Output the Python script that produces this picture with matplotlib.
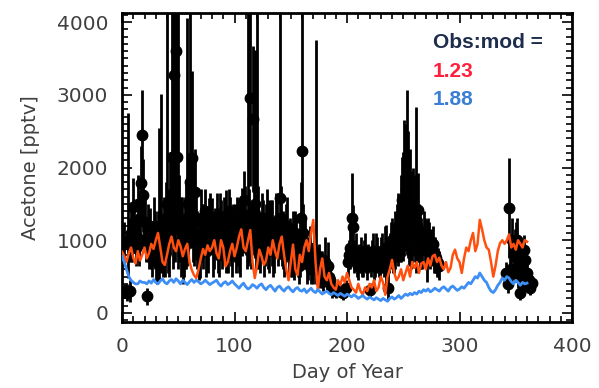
import numpy as np
import matplotlib
matplotlib.use("Agg")
import matplotlib.pyplot as plt
from matplotlib.ticker import MultipleLocator

# observations: day, acetone (pptv), error (upper)
obs_day = [2, 3, 4, 5, 6, 7, 8, 9, 10, 11, 12, 13, 14, 15, 16, 17, 18, 19, 20, 21,
           22, 24, 25, 27, 29, 31, 33, 35, 37, 38, 40, 42, 44, 46, 48, 49, 50, 52, 54, 56,
           58, 60, 62, 64, 65, 67, 69, 71, 73, 75, 77, 79, 80, 82, 84, 86, 88, 90, 92, 94,
           96, 98, 100, 102, 104, 106, 107, 108, 110, 112, 114, 116, 118, 120, 122, 124, 126, 128, 130, 132,
           134, 136, 138, 140, 142, 144, 146, 148, 149, 151, 153, 155, 157, 160, 162, 164, 166, 168, 170, 172,
           174, 176, 178, 180, 182, 183, 185, 187, 190, 193, 196, 199, 202, 204, 205, 207, 209, 211, 213, 215,
           217, 219, 220, 222, 224, 226, 228, 230, 232, 234, 235, 236, 238, 240, 242, 244, 246, 247, 249, 250,
           251, 253, 255, 257, 259, 261, 263, 265, 267, 269, 271, 273, 275, 277, 279, 281,
           341, 343, 344, 345, 347, 349, 351, 352, 354, 355, 357, 358, 360, 362, 364,
           # in-between samples
           23, 26, 28, 30, 32, 34, 36, 39, 41, 43, 45, 47, 51, 53, 55, 57, 59,
           61, 63, 66, 68, 70, 72, 74, 76, 78, 81, 83, 85, 87, 89, 91, 93, 95, 97, 99,
           101, 103, 105, 109, 111, 113, 115, 117, 119, 121, 123, 125, 127, 129, 131, 133, 135, 137, 139,
           141, 143, 145, 147, 150, 152, 154, 156, 158, 159, 161, 163, 165, 167, 169, 171, 173, 175, 177, 179,
           181, 184,
           201, 203, 206, 208, 210, 212, 214, 216, 218, 221, 223, 225, 227, 229, 231, 233, 237, 239, 241, 243,
           245, 248, 252, 254, 256, 258, 260, 262, 264, 266, 268, 270, 272, 274, 276, 278, 280, 282,
           346, 348, 350, 353, 356, 359, 361, 363]
obs_val = [950, 300, 280, 950, 1000, 300, 1100, 1000, 1460, 1200, 900, 1050, 1500, 950, 1300, 1790, 2450, 1620, 1250, 1000,
           230, 900, 1050, 800, 1000, 700, 900, 1100, 1200, 800, 1500, 1000, 2145, 3270, 3600, 2145, 1200, 1000, 800, 1100,
           1300, 1800, 2130, 1300, 1660, 1000, 900, 1100, 1200, 900, 1180, 1100, 1200, 1000, 1300, 800, 1150, 1050, 1100, 950,
           1250, 800, 1100, 1300, 900, 1200, 1250, 1550, 1100, 1300, 2950, 2670, 1500, 1200, 1000, 1300, 800, 1100, 950, 1250,
           900, 1050, 1200, 1580, 1000, 800, 1100, 900, 1000, 800, 700, 950, 650, 2230, 900, 700, 800, 600, 650, 800,
           700, 550, 600, 700, 500, 650, 450, 350, 300, 320, 280, 350, 800, 1300, 1180, 800, 700, 750, 650, 800,
           700, 750, 315, 800, 650, 850, 700, 800, 750, 900, 750, 350, 850, 1000, 900, 1100, 1200, 1000, 1550, 1420,
           1580, 1600, 1300, 1200, 1390, 1100, 1420, 1000, 900, 1000, 850, 950, 900, 800, 750, 690,
           550, 400, 1440, 550, 1000, 900, 1000, 500, 275, 700, 870, 730, 550, 450, 410,
           1100, 900, 1200, 800, 1000, 1200, 900, 1300, 1100, 1500, 1200, 1400, 1300, 1100, 900, 1200, 1500,
           1400, 1100, 1250, 800, 1300, 950, 1400, 1000, 1300, 900, 1150, 1000, 1300, 900, 1200, 1000, 1400, 1050, 1200,
           900, 1100, 1000, 1350, 900, 1200, 1000, 1400, 1100, 1300, 900, 1150, 1000, 1300, 1050, 1100, 850, 1250, 1000,
           1300, 1000, 900, 1200, 850, 1000, 1100, 800, 900, 1300, 1100, 950, 750, 900, 700, 850, 650, 750, 650, 550,
           600, 500,
           700, 900, 750, 850, 650, 800, 700, 850, 650, 700, 850, 700, 800, 650, 850, 700, 800, 950, 850, 1000,
           1150, 1300, 1700, 1500, 1450, 1250, 1300, 1200, 1100, 950, 1100, 900, 1000, 850, 950, 800, 700, 650,
           600, 800, 950, 650, 400, 500, 400, 350]
obs_err = [300, 100, 120, 1800, 300, 150, 400, 300, 400, 300, 250, 300, 400, 300, 300, 500, 620, 500, 400, 300,
           120, 300, 400, 300, 400, 300, 1640, 1910, 400, 300, 3000, 500, 2200, 1500, 1500, 2500, 3000, 600, 400, 500,
           2750, 2500, 1200, 800, 600, 400, 420, 400, 300, 400, 400, 300, 380, 400, 350, 300, 400, 350, 590, 400,
           350, 300, 400, 300, 350, 400, 470, 400, 300, 2900, 1200, 1000, 2115, 3000, 400, 350, 300, 400, 350, 300,
           400, 300, 400, 2600, 350, 300, 400, 350, 300, 300, 250, 350, 250, 2000, 300, 300, 250, 200, 250, 2950,
           200, 200, 250, 345, 200, 330, 150, 150, 100, 100, 100, 100, 200, 625, 300, 200, 200, 200, 150, 200,
           150, 200, 100, 200, 200, 250, 200, 250, 200, 300, 460, 320, 250, 300, 350, 400, 400, 300, 600, 800,
           1070, 1470, 800, 700, 600, 1730, 500, 400, 300, 300, 430, 300, 250, 250, 200, 200,
           150, 120, 690, 200, 300, 250, 300, 150, 100, 200, 200, 200, 150, 100, 100,
           400, 300, 400, 350, 400, 500, 400, 500, 600, 700, 800, 700, 600, 500, 400, 600, 700,
           500, 400, 450, 350, 400, 350, 300, 450, 350, 400, 300, 450, 350, 300, 400, 350, 300, 400, 300,
           350, 450, 500, 400, 300, 500, 400, 600, 500, 450, 350, 400, 350, 400, 500, 450, 300, 400, 350,
           450, 400, 350, 400, 350, 400, 300, 300, 400, 500, 400, 350, 300, 300, 250, 300, 250, 200, 200, 250,
           200, 200,
           200, 300, 200, 250, 200, 250, 200, 250, 200, 200, 250, 200, 250, 200, 250, 200, 250, 300, 300, 400,
           500, 600, 900, 1000, 800, 700, 600, 500, 400, 350, 300, 300, 300, 250, 250, 250, 200, 200,
           200, 250, 300, 200, 150, 150, 100, 100]

# model output every 2 days
mod_day = list(range(0, 361, 2))
mod_red = [840, 780, 700, 820, 900, 760, 680, 850, 720, 800,
           900, 750, 820, 950, 880, 1000, 1100, 900, 700, 660,
           800, 950, 1050, 900, 850, 1000, 920, 780, 880, 950,
           700, 590, 520, 480, 600, 750, 880, 800, 930, 850,
           900, 1000, 820, 750, 1000, 900, 640, 700, 850, 950,
           780, 900, 1050, 1150, 900, 850, 1000, 1140, 700, 480,
           650, 870, 780, 660, 720, 900, 800, 1000, 850, 750,
           950, 1050, 800, 600, 450, 700, 940, 600, 520, 800,
           700, 900, 1000, 850, 1100, 1280, 700, 320, 600, 750,
           500, 450, 550, 400, 350, 320, 450, 380, 500, 420,
           550, 450, 350, 320, 280, 400, 300, 250, 350, 300,
           400, 350, 450, 300, 350, 500, 420, 250, 500, 600,
           730, 550, 450, 500, 600, 450, 550, 650, 500, 700,
           620, 700, 550, 680, 700, 600, 750, 650, 780, 800,
           700, 760, 650, 600, 700, 560, 620, 800, 870, 750,
           700, 550, 750, 900, 850, 1000, 1100, 850, 950, 1280,
           1150, 1000, 900, 870, 700, 500, 650, 850, 960, 1000,
           950, 1000, 1080, 900, 950, 870, 1000, 950, 900, 1000,
           980]
mod_blue = [780, 700, 600, 500, 450, 420, 400, 400, 440, 420,
            420, 400, 440, 410, 460, 420, 400, 440, 470, 420,
            400, 440, 460, 420, 470, 440, 400, 450, 420, 390,
            430, 460, 420, 450, 430, 400, 420, 450, 420, 390,
            410, 430, 450, 400, 370, 410, 430, 390, 410, 440,
            400, 370, 340, 380, 410, 360, 330, 350, 390, 370,
            340, 380, 400, 350, 320, 360, 380, 340, 300, 350,
            370, 330, 300, 340, 360, 320, 290, 330, 350, 310,
            300, 330, 280, 310, 340, 300, 280, 320, 290, 260,
            280, 300, 270, 250, 280, 260, 240, 270, 250, 230,
            260, 240, 220, 250, 230, 200, 220, 240, 210, 190,
            220, 200, 180, 210, 190, 170, 200, 180, 160, 200,
            220, 190, 210, 240, 200, 230, 260, 240, 270, 250,
            280, 260, 300, 280, 320, 300, 330, 290, 310, 340,
            320, 300, 340, 360, 330, 300, 350, 370, 340, 310,
            330, 360, 340, 380, 420, 400, 450, 500, 480, 550,
            500, 450, 420, 350, 300, 280, 320, 380, 420, 480,
            450, 500, 480, 430, 400, 450, 420, 380, 420, 400,
            410]

ratio_red = "1.23"
ratio_blue = "1.88"

fig = plt.figure(figsize=(5.99, 3.88), dpi=100)
ax = fig.add_axes([0.2037, 0.170, 0.7513, 0.7965])

val = np.array(obs_val)
err = np.array(obs_err)
low = np.minimum(err, 0.5 * val)
ax.errorbar(obs_day, obs_val, yerr=[low, err], fmt='o', color='black', ecolor='black',
            markersize=7.5, elinewidth=2.0, capsize=0, zorder=2)
ax.plot(mod_day, mod_red, color='#ff5010', linewidth=1.8, zorder=3)
ax.plot(mod_day, mod_blue, color='#3d8ef5', linewidth=2.0, zorder=4)

ax.set_xlim(0, 400)
ax.set_ylim(-125, 4125)
ax.xaxis.set_major_locator(MultipleLocator(100))
ax.xaxis.set_minor_locator(MultipleLocator(10))
ax.yaxis.set_major_locator(MultipleLocator(1000))
ax.yaxis.set_minor_locator(MultipleLocator(100))
ax.tick_params(which='both', direction='in', top=True, right=True, colors='black',
               labelcolor='#404040', labelsize=14.5, width=1.2)
ax.tick_params(which='major', length=7)
ax.tick_params(which='minor', length=4)
ax.tick_params(axis='x', which='major', pad=11)
ax.tick_params(axis='y', which='major', pad=10)
for s in ax.spines.values():
    s.set_linewidth(2)

ax.set_xlabel("Day of Year", fontsize=14, color='#404040', labelpad=5)
ax.set_ylabel("Acetone [pptv]", fontsize=14, color='#404040', labelpad=12)

ax.text(0.69, 0.905, "Obs:mod =", transform=ax.transAxes, fontsize=15,
        fontweight='bold', color='#1f2d4d', family='Liberation Sans', va='center')
ax.text(0.69, 0.81, ratio_red, transform=ax.transAxes, fontsize=15,
        fontweight='bold', color='#ff1f3d', family='Liberation Sans', va='center')
ax.text(0.69, 0.72, ratio_blue, transform=ax.transAxes, fontsize=15,
        fontweight='bold', color='#3a7fd5', family='Liberation Sans', va='center')

fig.savefig("out.png", dpi=100)
